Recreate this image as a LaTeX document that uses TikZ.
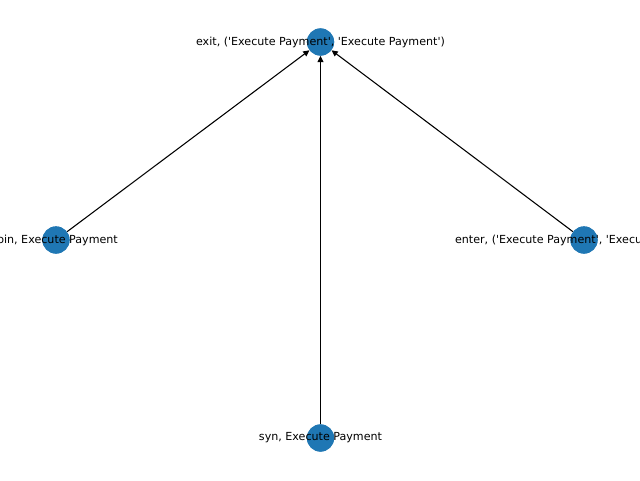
\documentclass[tikz,border=0pt]{standalone}
\usepackage{fontspec}
\setmainfont{DejaVu Sans}[Ligatures=TeXOff]
\usetikzlibrary{arrows.meta}
\definecolor{mplblue}{HTML}{1F77B4}
\tikzset{
  gnode/.style={circle, fill=mplblue, draw=none, minimum size=20.4pt, inner sep=0pt},
  glabel/.style={font=\fontsize{8.33}{10}\selectfont, inner sep=0pt, text=black},
  gedge/.style={line width=0.8pt, -{Triangle[length=4.6pt,width=4.4pt]}, shorten >=0pt}
}
\begin{document}
\begin{tikzpicture}[x=1pt,y=1pt]
\useasboundingbox (0,0) rectangle (480,360);
\clip (0,0) rectangle (480,360);
\fill[white] (0,0) rectangle (480,360);
\node[gnode] (exit) at (240.375,328.5) {};
\node[gnode] (join) at (42,180) {};
\node[gnode] (enter) at (438,180) {};
\node[gnode] (syn) at (240.375,31.5) {};
\draw[gedge] (join) -- (exit);
\draw[gedge] (enter) -- (exit);
\draw[gedge] (syn) -- (exit);
\node[gnode] at (exit) {};
\node[gnode] at (join) {};
\node[gnode] at (enter) {};
\node[gnode] at (syn) {};
\node[glabel] (lexit) at (exit) {exit, ('Execute Payment', 'Execute Payment')};
\node[glabel] (ljoin) at (join) {join, Execute Payment};
\node[glabel] (lenter) at (enter) {enter, ('Execute Payment', 'Execute Payment')};
\node[glabel] (lsyn) at (syn) {syn, Execute Payment};
\end{tikzpicture}
\end{document}
